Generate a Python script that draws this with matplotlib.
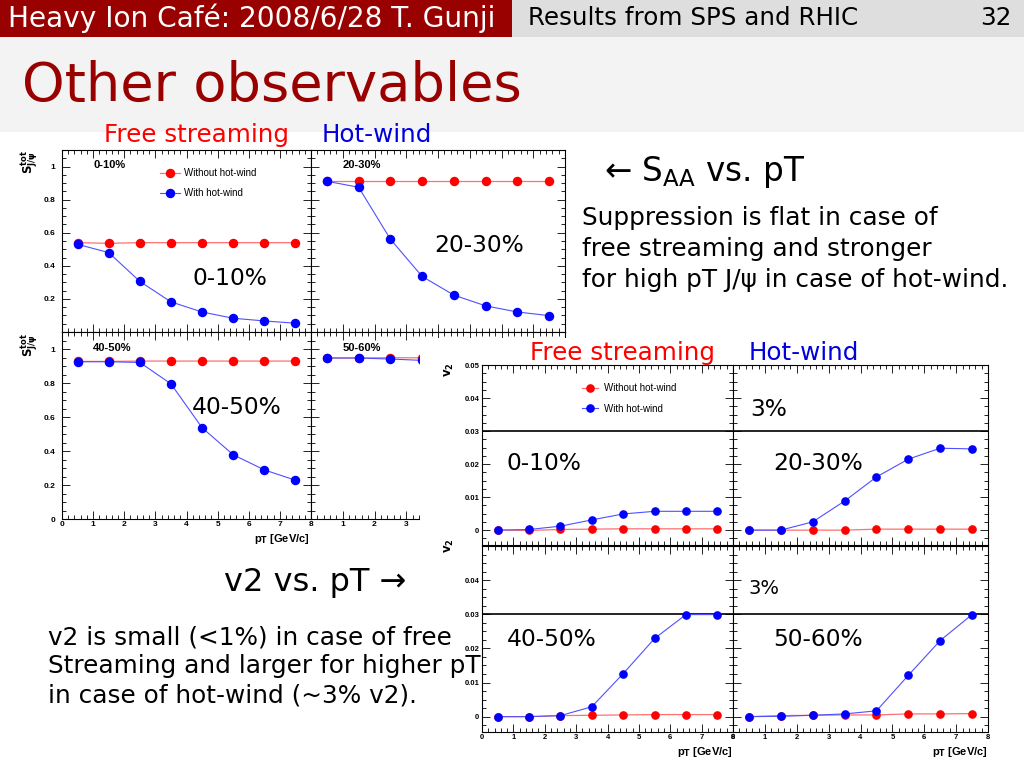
import matplotlib
matplotlib.use('Agg')
import matplotlib.pyplot as plt
from matplotlib.patches import Rectangle
from matplotlib.ticker import MultipleLocator

W, H = 1024, 768

# ---------------- data ----------------
pt = [0.5, 1.5, 2.5, 3.5, 4.5, 5.5, 6.5, 7.5]
pt_50_60_saa = [0.5, 1.5, 2.5, 3.5]   # visible part of the 50-60% S_AA panel

saa_0_10_without = [0.54, 0.536, 0.54, 0.54, 0.54, 0.54, 0.54, 0.54]
saa_0_10_with = [0.530, 0.480, 0.306, 0.182, 0.121, 0.083, 0.067, 0.053]
saa_20_30_without = [0.911, 0.911, 0.911, 0.911, 0.911, 0.911, 0.911, 0.911]
saa_20_30_with = [0.911, 0.875, 0.561, 0.336, 0.223, 0.158, 0.121, 0.099]
saa_40_50_without = [0.927, 0.927, 0.929, 0.929, 0.929, 0.929, 0.929, 0.929]
saa_40_50_with = [0.925, 0.925, 0.921, 0.795, 0.537, 0.378, 0.289, 0.228]
saa_50_60_without = [0.947, 0.947, 0.949, 0.948]
saa_50_60_with = [0.947, 0.947, 0.941, 0.933]

v2_0_10_without = [0.0, -0.0001, 0.0002, 0.0003, 0.0004, 0.0004, 0.0004, 0.0004]
v2_0_10_with = [0.0, 0.0002, 0.0012, 0.0031, 0.0049, 0.0057, 0.0057, 0.0057]
v2_20_30_without = [0.0, 0.0, 0.0, 0.0, 0.0003, 0.0003, 0.0003, 0.0003]
v2_20_30_with = [0.0, 0.0, 0.0025, 0.0088, 0.0161, 0.0215, 0.0248, 0.0246]
v2_40_50_without = [0.0, 0.0, 0.0003, 0.0004, 0.0005, 0.0006, 0.0006, 0.0006]
v2_40_50_with = [0.0, 0.0, 0.0003, 0.0029, 0.0126, 0.0229, 0.0299, 0.0299]
v2_50_60_without = [0.0, 0.0003, 0.0004, 0.0005, 0.0005, 0.0008, 0.0008, 0.0009]
v2_50_60_with = [0.0, 0.0001, 0.0004, 0.0008, 0.0017, 0.0121, 0.0223, 0.0299]

v2_reference = 0.03

saa_yticks = [0.0, 0.2, 0.4, 0.6, 0.8, 1.0]
saa_yticklabels_top = ['', '0.2', '0.4', '0.6', '0.8', '1']
saa_yticklabels_bottom = ['0', '0.2', '0.4', '0.6', '0.8', '1']
v2_yticks = [0.0, 0.01, 0.02, 0.03, 0.04, 0.05]
v2_yticklabels_top = ['0', '0.01', '0.02', '0.03', '0.04', '0.05']
v2_yticklabels_bottom = ['0', '0.01', '0.02', '0.03', '0.04', '']
xticks = [0, 1, 2, 3, 4, 5, 6, 7, 8]
xticklabels_left = ['0', '1', '2', '3', '4', '5', '6', '7', '8']
xticklabels_right = ['', '1', '2', '3', '4', '5', '6', '7', '8']

label_without = 'Without hot-wind'
label_with = 'With hot-wind'

# ---------------- figure ----------------
fig = plt.figure(figsize=(W / 100, H / 100), dpi=100)
fig.patch.set_facecolor('white')

SLIDE_FONT = ['DejaVu Sans']
ROOT_FONT = ['Liberation Sans', 'DejaVu Sans']
DARKRED = '#990000'


def px_axes(x0, y0, x1, y1, **kw):
    return fig.add_axes([x0 / W, 1 - y1 / H, (x1 - x0) / W, (y1 - y0) / H], **kw)


def ftext(x, y, s, **kw):
    kw.setdefault('family', SLIDE_FONT)
    return fig.text(x / W, 1 - y / H, s, **kw)


# background layer
bg = px_axes(0, 0, W, H, zorder=-5)
bg.set_xlim(0, W)
bg.set_ylim(H, 0)
bg.axis('off')
bg.add_patch(Rectangle((0, 36), W, 96, facecolor='#f3f3f3', edgecolor='none'))
bg.add_patch(Rectangle((0, 0), 512, 37, facecolor=DARKRED, edgecolor='none'))
bg.add_patch(Rectangle((512, 0), 512, 37, facecolor='#dedede', edgecolor='none'))

RED = '#ff0000'
BLUE = '#0000ff'
RED_LINE = '#ff7070'
BLUE_LINE = '#5050ff'


def root_axes(ax, ylim, yticks, ylabels, xlabels, yminor, ypad, lsize):
    ax.set_xlim(0, 8)
    ax.set_ylim(*ylim)
    ax.set_xticks(xticks)
    ax.set_xticklabels(xlabels, fontsize=lsize, fontweight='bold', family=ROOT_FONT)
    ax.set_yticks(yticks)
    ax.set_yticklabels(ylabels, fontsize=lsize, fontweight='bold', family=ROOT_FONT)
    ax.xaxis.set_minor_locator(MultipleLocator(0.2))
    ax.yaxis.set_minor_locator(MultipleLocator(yminor))
    ax.tick_params(which='both', direction='in', top=True, right=True,
                   width=0.6, color='black')
    ax.tick_params(which='major', length=6)
    ax.tick_params(which='minor', length=3)
    ax.tick_params(axis='x', pad=1.5)
    ax.tick_params(axis='y', pad=ypad)
    for s in ax.spines.values():
        s.set_linewidth(0.8)
        s.set_color('black')
    ax.set_facecolor('white')


def draw_series(ax, x, without, with_, ms):
    ax.plot(x, without, color=RED_LINE, lw=0.9, marker='o', ms=ms,
            mfc=RED, mec=RED, label=label_without, zorder=3)
    ax.plot(x, with_, color=BLUE_LINE, lw=0.8, marker='o', ms=ms,
            mfc=BLUE, mec=BLUE, label=label_with, zorder=4)


# ---------------- S_AA figure ----------------
saa_ylim = (0, 1.1)
ax1 = px_axes(62, 150, 311, 332)
ax2 = px_axes(311, 150, 565, 332)
ax3 = px_axes(62, 332, 311, 519)
ax4 = px_axes(311, 332, 565, 519)

root_axes(ax1, saa_ylim, saa_yticks, saa_yticklabels_top, [''] * 9, 0.05, 5, 6)
root_axes(ax2, saa_ylim, saa_yticks, [''] * 6, [''] * 9, 0.05, 5, 6)
root_axes(ax3, saa_ylim, saa_yticks, saa_yticklabels_bottom, xticklabels_left, 0.05, 5, 6)
root_axes(ax4, saa_ylim, saa_yticks, [''] * 6, xticklabels_right, 0.05, 5, 6)

draw_series(ax1, pt, saa_0_10_without, saa_0_10_with, 5.8)
draw_series(ax2, pt, saa_20_30_without, saa_20_30_with, 5.8)
draw_series(ax3, pt, saa_40_50_without, saa_40_50_with, 5.8)
draw_series(ax4, pt_50_60_saa, saa_50_60_without, saa_50_60_with, 5.8)

for ax, lab in [(ax1, '0-10%'), (ax2, '20-30%'), (ax3, '40-50%'), (ax4, '50-60%')]:
    ax.text(0.125, 0.915, lab, transform=ax.transAxes, fontsize=8,
            fontweight='bold', family=ROOT_FONT, va='center', ha='left')

leg1 = ax1.legend(loc='upper left', bbox_to_anchor=(160 / W, 1 - 168 / H),
                  bbox_transform=fig.transFigure, frameon=False,
                  prop={'family': ROOT_FONT, 'size': 7}, handlelength=2.1,
                  handletextpad=0.35, labelspacing=1.05, borderpad=0,
                  borderaxespad=0, numpoints=1)

saa_ylabel = r'$\mathbf{S^{tot}_{J/\psi}}$'
ftext(30, 162, saa_ylabel, fontsize=8.5, rotation=90, va='center', ha='center')
ftext(30, 345, saa_ylabel, fontsize=8.5, rotation=90, va='center', ha='center')
ftext(310, 539, r'p$_\mathbf{T}$ [GeV/c]', fontsize=8, fontweight='bold',
      family=ROOT_FONT, ha='right', va='center')

# ---------------- v2 figure (overlay) ----------------
cover = px_axes(420, 338, W, H, zorder=1)
cover.set_facecolor('white')
cover.set_xticks([])
cover.set_yticks([])
for s in cover.spines.values():
    s.set_visible(False)

v2_ylim = (-0.0045, 0.05)
b1 = px_axes(482, 365, 733, 545, zorder=2)
b2 = px_axes(733, 365, 988, 545, zorder=2)
b3 = px_axes(482, 546, 733, 732, zorder=2)
b4 = px_axes(733, 546, 988, 732, zorder=2)

root_axes(b1, v2_ylim, v2_yticks, v2_yticklabels_top, [''] * 9, 0.0025, 2, 5.5)
root_axes(b2, v2_ylim, v2_yticks, [''] * 6, [''] * 9, 0.0025, 2, 5.5)
root_axes(b3, v2_ylim, v2_yticks, v2_yticklabels_bottom, xticklabels_left, 0.0025, 2, 5.5)
root_axes(b4, v2_ylim, v2_yticks, [''] * 6, xticklabels_left, 0.0025, 2, 5.5)

for ax in (b1, b2, b3, b4):
    ax.axhline(v2_reference, color='black', lw=1.2, zorder=2)

draw_series(b1, pt, v2_0_10_without, v2_0_10_with, 5.2)
draw_series(b2, pt, v2_20_30_without, v2_20_30_with, 5.2)
draw_series(b3, pt, v2_40_50_without, v2_40_50_with, 5.2)
draw_series(b4, pt, v2_50_60_without, v2_50_60_with, 5.2)

leg2 = b1.legend(loc='upper left', bbox_to_anchor=(582 / W, 1 - 383 / H),
                 bbox_transform=fig.transFigure, frameon=False,
                 prop={'family': ROOT_FONT, 'size': 7}, handlelength=1.6,
                 handletextpad=0.7, labelspacing=1.1, borderpad=0,
                 borderaxespad=0, numpoints=1)

v2_ylabel = r'$\mathbf{v_2}$'
ftext(449, 370, v2_ylabel, fontsize=8.5, rotation=90, va='center', ha='center', zorder=5)
ftext(449, 546, v2_ylabel, fontsize=8.5, rotation=90, va='center', ha='center', zorder=5)
ftext(733, 752, r'p$_\mathbf{T}$ [GeV/c]', fontsize=8, fontweight='bold',
      family=ROOT_FONT, ha='right', va='center', zorder=5)
ftext(988, 752, r'p$_\mathbf{T}$ [GeV/c]', fontsize=8, fontweight='bold',
      family=ROOT_FONT, ha='right', va='center', zorder=5)

# ---------------- slide text ----------------
ftext(8, 18, 'Heavy Ion Café: 2008/6/28 T. Gunji', color='white', fontsize=20.2,
      va='center', ha='left')
ftext(528, 18, 'Results from SPS and RHIC', color='black', fontsize=17.7,
      va='center', ha='left')
ftext(1012, 18, '32', color='black', fontsize=17.7, va='center', ha='right')
ftext(22, 86, 'Other observables', color=DARKRED, fontsize=39.2, va='center', ha='left')

ftext(104, 135, 'Free streaming', color=RED, fontsize=17.7, va='center', ha='left')
ftext(322, 135, 'Hot-wind', color='#0000dd', fontsize=17.7, va='center', ha='left')
ftext(530, 353, 'Free streaming', color=RED, fontsize=17.7, va='center', ha='left', zorder=5)
ftext(749, 353, 'Hot-wind', color='#0000dd', fontsize=17.7, va='center', ha='left', zorder=5)

big = dict(fontsize=16.8, va='center', ha='left', color='black', zorder=6)
ftext(192, 278, '0-10%', **big)
ftext(434, 246, '20-30%', **big)
ftext(192, 408, '40-50%', **big)
ftext(750, 410, '3%', **big)
ftext(507, 463, '0-10%', **big)
ftext(773, 463, '20-30%', **big)
ftext(507, 640, '40-50%', **big)
ftext(773, 640, '50-60%', **big)
ftext(749, 589, '3%', fontsize=14, va='center', ha='left', color='black', zorder=6)

ftext(604, 172, r'← S$_\mathregular{AA}$ vs. pT', fontsize=23.5, va='center', ha='left')
body = dict(fontsize=17.8, va='center', ha='left', color='black', zorder=6)
ftext(582, 218, 'Suppression is flat in case of', **body)
ftext(582, 249, 'free streaming and stronger', **body)
ftext(582, 280, 'for high pT J/ψ in case of hot-wind.', **body)

ftext(224, 583, 'v2 vs. pT →', fontsize=23, va='center', ha='left', zorder=6)
ftext(48, 637, 'v2 is small (<1%) in case of free', **body)
ftext(48, 666, 'Streaming and larger for higher pT', **body)
ftext(48, 695, 'in case of hot-wind (~3% v2).', **body)

fig.savefig('out.png', dpi=100)
